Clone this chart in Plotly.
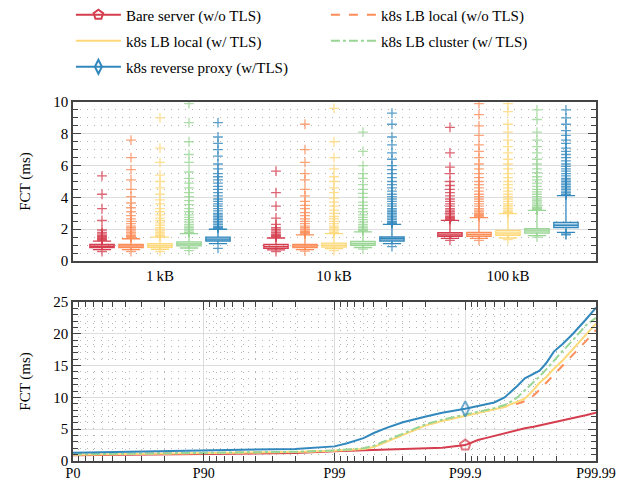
import math
import plotly.graph_objects as go

# ---------------- data ----------------
series = ["Bare server (w/o TLS)", "k8s LB local (w/o TLS)", "k8s LB local (w/ TLS)",
          "k8s LB cluster (w/ TLS)", "k8s reverse proxy (w/TLS)"]
colors = ["#d53e4f", "#fc8d59", "#fdd97a", "#99d594", "#3288bd"]
fills = ["rgba(213,62,79,0.35)", "rgba(252,141,89,0.35)", "rgba(253,217,122,0.45)",
         "rgba(153,213,148,0.4)", "rgba(50,136,189,0.35)"]
dashes = ["solid", "dash", "solid", "dashdot", "solid"]

sizes = ["1\u2009kB", "10\u2009kB", "100\u2009kB"]

# box statistics per series: one value per message size (1 kB, 10 kB, 100 kB)
q1 = [[0.85, 0.80, 1.55], [0.85, 0.85, 1.55], [0.86, 0.88, 1.62], [0.95, 0.99, 1.76], [1.26, 1.26, 2.10]]
med = [[0.93, 0.90, 1.65], [0.95, 0.95, 1.67], [0.97, 0.98, 1.75], [1.07, 1.10, 1.90], [1.38, 1.40, 2.25]]
q3 = [[1.05, 1.05, 1.78], [1.05, 1.05, 1.80], [1.10, 1.12, 1.93], [1.20, 1.24, 2.04], [1.50, 1.51, 2.43]]
lowf = [[0.72, 0.70, 1.42], [0.72, 0.72, 1.42], [0.74, 0.78, 1.45], [0.82, 0.85, 1.60], [1.09, 1.10, 1.80]]
upf = [[1.25, 1.45, 2.56], [1.40, 1.65, 2.73], [1.50, 1.72, 2.98], [1.72, 1.83, 3.19], [2.00, 2.30, 4.11]]

outliers = [
    [  # Bare server
        [0.60, 1.30, 1.35, 1.40, 1.45, 1.50, 1.55, 1.60, 1.70, 1.80, 1.95, 2.55, 3.30, 4.20, 5.35],
        [0.60, 1.50, 1.55, 1.60, 1.65, 1.70, 1.80, 1.90, 2.00, 2.10, 2.30, 2.70, 3.45, 4.30, 5.65],
        [1.30, 2.60, 2.65, 2.70, 2.75, 2.80, 2.90, 3.00, 3.10, 3.20, 3.30, 3.45, 3.60, 3.75, 3.90,
         4.10, 4.30, 4.50, 4.75, 5.00, 5.50, 5.90, 6.80, 8.40],
    ],
    [  # k8s LB local (w/o TLS)
        [0.60, 1.45, 1.50, 1.55, 1.60, 1.70, 1.80, 1.90, 2.00, 2.10, 2.20, 2.35, 2.50, 2.65, 2.85,
         3.10, 3.35, 3.65, 4.05, 4.50, 5.10, 5.75, 6.50, 7.60],
        [0.62, 1.70, 1.75, 1.80, 1.85, 1.90, 2.00, 2.10, 2.20, 2.35, 2.50, 2.65, 2.85, 3.05, 3.30,
         3.50, 3.75, 4.10, 4.50, 5.10, 5.50, 6.20, 7.00, 8.60],
        [1.30, 2.80, 2.85, 2.90, 2.95, 3.00, 3.10, 3.20, 3.30, 3.45, 3.60, 3.75, 3.90, 4.05, 4.20,
         4.40, 4.60, 4.80, 5.00, 5.25, 5.50, 5.80, 6.10, 6.50, 6.90, 7.30, 7.90, 8.50, 9.20, 9.90],
    ],
    [  # k8s LB local (w/ TLS)
        [0.60, 1.55, 1.60, 1.70, 1.80, 1.90, 2.00, 2.10, 2.25, 2.40, 2.55, 2.70, 2.90, 3.10, 3.30,
         3.60, 3.85, 4.20, 4.60, 5.00, 5.40, 6.20, 7.10, 9.00],
        [0.65, 1.75, 1.80, 1.90, 2.00, 2.10, 2.20, 2.35, 2.50, 2.65, 2.80, 3.00, 3.20, 3.45, 3.70,
         3.95, 4.30, 4.60, 5.00, 5.30, 5.80, 6.50, 7.50, 9.60],
        [1.35, 3.00, 3.05, 3.10, 3.20, 3.30, 3.40, 3.50, 3.60, 3.75, 3.90, 4.05, 4.20, 4.40, 4.60,
         4.80, 5.00, 5.25, 5.50, 5.80, 6.10, 6.40, 6.80, 7.20, 7.60, 8.10, 8.60, 9.40, 9.90],
    ],
    [  # k8s LB cluster (w/ TLS)
        [0.65, 1.75, 1.80, 1.90, 2.00, 2.10, 2.20, 2.30, 2.45, 2.60, 2.75, 2.90, 3.10, 3.30, 3.55,
         3.80, 4.05, 4.30, 4.60, 4.90, 5.20, 5.60, 6.20, 6.70, 7.50, 8.70, 9.90],
        [0.75, 1.90, 1.95, 2.00, 2.10, 2.20, 2.30, 2.45, 2.60, 2.75, 2.90, 3.10, 3.30, 3.50, 3.70,
         4.00, 4.25, 4.50, 4.80, 5.20, 5.50, 6.00, 6.90, 8.10],
        [1.50, 3.20, 3.25, 3.30, 3.35, 3.40, 3.50, 3.60, 3.70, 3.80, 3.90, 4.05, 4.20, 4.35, 4.50,
         4.70, 4.90, 5.10, 5.30, 5.55, 5.80, 6.10, 6.40, 6.80, 7.20, 7.60, 8.10, 8.90, 9.50],
    ],
    [  # k8s reverse proxy (w/TLS)
        [0.80, 2.05, 2.10, 2.15, 2.20, 2.30, 2.40, 2.50, 2.60, 2.70, 2.80, 2.90, 3.00, 3.15, 3.30,
         3.45, 3.60, 3.75, 3.90, 4.10, 4.30, 4.50, 4.70, 4.90, 5.10, 5.30, 5.50, 5.80, 6.10, 6.60,
         7.00, 7.40, 7.80, 8.70],
        [0.90, 2.35, 2.40, 2.45, 2.50, 2.60, 2.70, 2.80, 2.90, 3.00, 3.10, 3.20, 3.30, 3.45, 3.60,
         3.75, 3.90, 4.05, 4.20, 4.40, 4.60, 4.80, 5.00, 5.25, 5.50, 5.75, 6.00, 6.40, 6.80, 7.30,
         7.80, 8.60, 9.30],
        [1.65, 1.70, 4.15, 4.20, 4.30, 4.40, 4.50, 4.60, 4.70, 4.80, 4.90, 5.00, 5.10, 5.20, 5.35,
         5.50, 5.65, 5.80, 5.95, 6.10, 6.30, 6.50, 6.70, 6.90, 7.10, 7.40, 7.60, 7.90, 8.20, 8.60,
         9.00, 9.50],
    ],
]

# percentile curves (FCT in ms)
percentiles = [0, 50, 80, 90, 95, 98, 99, 99.2, 99.4, 99.5, 99.6, 99.7, 99.8, 99.85, 99.9,
               99.92, 99.93, 99.94, 99.95, 99.955, 99.96, 99.965, 99.97, 99.973, 99.976,
               99.979, 99.982, 99.985, 99.988, 99.99]
fct = [
    [0.90, 0.95, 1.00, 1.05, 1.10, 1.25, 1.55, 1.62, 1.70, 1.75, 1.80, 1.85, 1.95, 2.10, 2.50,
     3.30, 3.60, 3.95, 4.40, 4.70, 4.90, 5.15, 5.40, 5.60, 5.80, 6.10, 6.40, 6.80, 7.20, 7.60],
    [1.00, 1.05, 1.15, 1.20, 1.25, 1.40, 1.60, 1.75, 1.95, 2.30, 3.05, 4.15, 5.65, 6.35, 7.15,
     7.60, 7.85, 8.10, 8.50, 8.75, 9.00, 9.40, 10.30, 11.20, 12.30, 13.50, 15.00, 16.60, 18.80, 20.60],
    [1.00, 1.05, 1.15, 1.20, 1.25, 1.40, 1.60, 1.75, 1.90, 2.20, 3.00, 4.10, 5.60, 6.30, 7.10,
     7.50, 7.80, 8.10, 8.50, 8.90, 9.30, 9.80, 11.20, 12.30, 13.20, 14.50, 15.80, 17.60, 19.90, 21.60],
    [1.05, 1.10, 1.20, 1.25, 1.30, 1.45, 1.65, 1.80, 2.00, 2.40, 3.20, 4.30, 5.80, 6.50, 7.30,
     7.80, 8.00, 8.30, 8.80, 9.30, 10.00, 11.10, 12.40, 13.30, 14.40, 15.80, 17.30, 19.00, 21.30, 22.50],
    [1.30, 1.40, 1.50, 1.60, 1.70, 1.90, 2.30, 2.80, 3.60, 4.40, 5.20, 6.10, 7.00, 7.60, 8.20,
     8.60, 8.90, 9.20, 10.00, 10.80, 11.80, 13.00, 13.70, 14.20, 15.40, 17.20, 18.40, 20.00, 22.20, 24.10],
]
marker_pct = 99.9
markers = ["pentagon-open", None, None, None, "diamond-tall-open"]

pct_ticks = [0, 90, 99, 99.9, 99.99]
pct_tick_labels = ["P0", "P90", "P99", "P99.9", "P99.99"]

# ---------------- figure ----------------
def nines(p):
    return -math.log10(1 - p / 100.0)

FONT = "Liberation Serif"
fig = go.Figure()

n = len(series)
for i in range(n):
    off = (i - (n - 1) / 2) / 6.0
    xs = [k + off for k in range(len(sizes))]
    fig.add_trace(go.Box(
        x=xs, q1=q1[i], median=med[i], q3=q3[i], lowerfence=lowf[i], upperfence=upf[i],
        width=0.14, whiskerwidth=0.75, boxpoints=False,
        line=dict(color=colors[i], width=1.3), fillcolor=fills[i],
        xaxis="x", yaxis="y", showlegend=False, hoverinfo="skip"))
    ox, oy = [], []
    for k in range(len(sizes)):
        ox += [k + off] * len(outliers[i][k])
        oy += outliers[i][k]
    fig.add_trace(go.Scatter(
        x=ox, y=oy, mode="markers", xaxis="x", yaxis="y", showlegend=False,
        marker=dict(symbol="cross-thin", size=7, opacity=0.8,
                    line=dict(color=colors[i], width=1.3)),
        hoverinfo="skip"))

xv = [nines(p) for p in percentiles]
legend_names = ["legend", "legend", "legend2", "legend2", "legend3"]
for i in range(n):
    line = dict(color=colors[i], width=2, dash=dashes[i])
    tr = dict(x=xv, y=fct[i], xaxis="x2", yaxis="y2", name=series[i], line=line,
              showlegend=False)
    if markers[i]:
        msize = [11 if p == marker_pct else 0 for p in percentiles]
        tr["mode"] = "lines+markers"
        tr["marker"] = dict(symbol=markers[i], size=msize, color=colors[i],
                            line=dict(width=2, color=colors[i]))
    else:
        tr["mode"] = "lines"
    fig.add_trace(go.Scatter(**tr))
    # legend entry (no data drawn)
    leg = dict(x=[None], y=[None], xaxis="x2", yaxis="y2", name=series[i], line=line,
               legend=legend_names[i], showlegend=True,
               mode="lines+markers" if markers[i] else "lines")
    if markers[i]:
        leg["marker"] = dict(symbol=markers[i], size=10, color=colors[i],
                             line=dict(width=2, color=colors[i]))
    fig.add_trace(go.Scatter(**leg))

minor_x = ([nines(p) for p in range(10, 90, 10)] +
           [nines(p) for p in range(91, 99)] +
           [nines(99 + p / 10) for p in range(1, 9)] +
           [nines(99.9 + p / 100) for p in range(1, 9)])

axcol = "#444444"
gridcol = "#dddddd"
mgridcol = "#b5b5b5"
mdash = "1px,6px"
tickfont = dict(family=FONT, size=15, color="black")

common_y = dict(showline=True, linecolor=axcol, linewidth=1.5, mirror="allticks",
                ticks="inside", ticklen=8, tickcolor=axcol, tickwidth=1,
                showgrid=True, gridcolor=gridcol, gridwidth=1, zeroline=False,
                tickfont=tickfont, automargin=False,
                title=dict(text="FCT (ms)", font=dict(family=FONT, size=15, color="black"),
                           standoff=19))

# page body adds an 8px offset, so margins are set relative to that
fig.update_layout(
    width=628, height=481,
    margin=dict(l=65, r=40, t=94, b=28, autoexpand=False),
    paper_bgcolor="white", plot_bgcolor="white",
    font=dict(family=FONT, size=15, color="black"),
    xaxis=dict(domain=[0, 1], anchor="y", range=[-0.5, 2.506], tickmode="array",
               tickvals=list(range(len(sizes))), ticktext=sizes, ticks="",
               showgrid=False, zeroline=False, showline=True, linecolor=axcol,
               linewidth=1.5, mirror=True, tickfont=tickfont, automargin=False),
    yaxis=dict(domain=[0.557, 1], anchor="x", range=[0, 10], dtick=2,
               minor=dict(dtick=0.5, ticks="inside", ticklen=5, tickcolor=axcol,
                          showgrid=True, gridcolor=mgridcol, griddash=mdash, gridwidth=1),
               **common_y),
    xaxis2=dict(domain=[0, 1], anchor="y2", range=[0, 4], tickmode="array",
                tickvals=[nines(p) for p in pct_ticks], ticktext=pct_tick_labels,
                ticks="inside", ticklen=8, tickcolor=axcol, mirror="allticks",
                showline=True, linecolor=axcol, linewidth=1.5, automargin=False,
                ticklabelstandoff=-2,
                showgrid=True, gridcolor=gridcol, zeroline=False,
                tickfont=dict(family=FONT, size=14, color="black"),
                minor=dict(tickvals=minor_x, ticks="inside", ticklen=5, tickcolor=axcol,
                           showgrid=True, gridcolor=mgridcol, griddash=mdash, gridwidth=1)),
    yaxis2=dict(domain=[0, 0.443], anchor="x2", range=[0, 25], dtick=5,
                minor=dict(dtick=1, ticks="inside", ticklen=5, tickcolor=axcol,
                           showgrid=True, gridcolor=mgridcol, griddash=mdash, gridwidth=1),
                **common_y),
)

leg_common = dict(orientation="h", xanchor="left", yanchor="middle", x=-0.004,
                  entrywidth=195, entrywidthmode="pixels", itemwidth=45,
                  bgcolor="rgba(0,0,0,0)", font=dict(family=FONT, size=15, color="black"),
                  traceorder="normal")
fig.update_layout(
    legend=dict(y=(453 - 7) / 359, **leg_common),
    legend2=dict(y=(453 - 33) / 359, **leg_common),
    legend3=dict(y=(453 - 59) / 359, **leg_common),
)

fig.write_html("out.html")
